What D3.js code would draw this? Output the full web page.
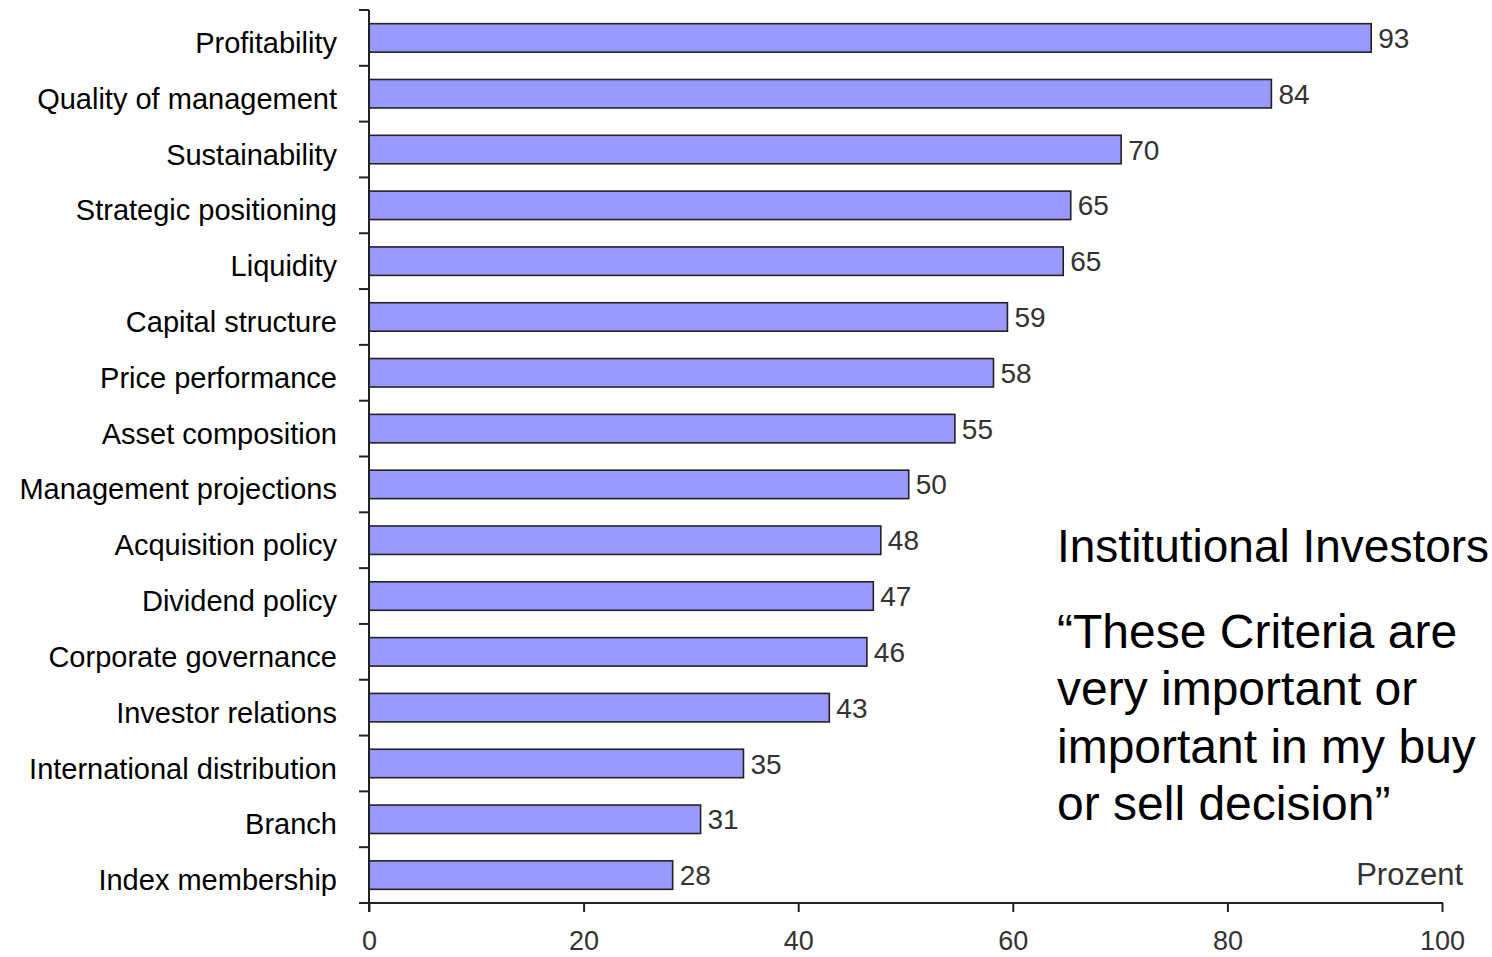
<!DOCTYPE html>
<html><head><meta charset="utf-8">
<script src="https://cdn.jsdelivr.net/npm/d3@7"></script>
<style>html,body{margin:0;padding:0;background:#fff;}svg{display:block;}</style>
</head><body>
<svg id="chart" width="1492" height="957"></svg>
<script>
const categories = ["Profitability","Quality of management","Sustainability","Strategic positioning","Liquidity","Capital structure","Price performance","Asset composition","Management projections","Acquisition policy","Dividend policy","Corporate governance","Investor relations","International distribution","Branch","Index membership"];
const values = [93.4,84.1,70.1,65.4,64.7,59.5,58.2,54.6,50.3,47.7,47.0,46.4,42.9,34.9,30.9,28.3];
const valueLabels = ["93","84","70","65","65","59","58","55","50","48","47","46","43","35","31","28"];
const xTicks = [0,20,40,60,80,100];
const noteTitle = "Institutional Investors";
const noteLines = ["\u201CThese Criteria are","very important or","important in my buy","or sell decision\u201D"];

const svg = d3.select("#chart");
const font = "Arial, 'Liberation Sans', sans-serif";
const x = d3.scaleLinear().domain([0,100]).range([369,1442]);
const y = d3.scaleBand().domain(categories).range([10,903]).paddingInner(0.49).paddingOuter(0.245);
const yb = d3.scaleBand().domain(categories).range([10,903]);

// bars
svg.selectAll("rect.bar").data(categories).join("rect")
  .attr("x", x(0)).attr("y", d=>y(d))
  .attr("width", (d,i)=>x(values[i])-x(0)).attr("height", y.bandwidth())
  .attr("fill","#9999ff").attr("stroke","#222").attr("stroke-width",1.6);

// value labels
svg.selectAll("text.val").data(categories).join("text")
  .attr("x",(d,i)=>x(values[i])+7).attr("y",d=>y(d)+y.bandwidth()/2)
  .attr("dy","0.36em").attr("font-family",font).attr("font-size",28).attr("fill","#333")
  .text((d,i)=>valueLabels[i]);

// category labels
svg.selectAll("text.cat").data(categories).join("text")
  .attr("x",337).attr("y",d=>yb(d)+yb.bandwidth()/2+2)
  .attr("dy","0.45em").attr("text-anchor","end")
  .attr("font-family",font).attr("font-size",29).attr("fill","#000").text(d=>d);

// y axis
const yAxisG = svg.append("g");
yAxisG.append("line").attr("x1",369).attr("x2",369).attr("y1",10).attr("y2",912).attr("stroke","#222").attr("stroke-width",2);
const bounds = categories.map(d=>yb(d));
yAxisG.selectAll("line.t").data(bounds).join("line")
  .attr("x1",359).attr("x2",369).attr("y1",d=>d).attr("y2",d=>d).attr("stroke","#222").attr("stroke-width",2);

// x axis
const xAxis = d3.axisBottom(x).tickValues(xTicks).tickSize(9).tickPadding(19).tickSizeOuter(0);
const xg = svg.append("g").attr("transform","translate(0,903)").call(xAxis);
xg.select(".domain").remove();
xg.append("line").attr("x1",359).attr("x2",1443).attr("y1",0).attr("y2",0).attr("stroke","#222").attr("stroke-width",2);
xg.selectAll(".tick line").attr("stroke","#222").attr("stroke-width",2);
xg.selectAll(".tick text").attr("font-family",font).attr("font-size",27).attr("fill","#333");

// Prozent
svg.append("text").attr("x",1463).attr("y",885).attr("text-anchor","end")
  .attr("font-family",font).attr("font-size",31).attr("fill","#333").text("Prozent");

// annotation
svg.append("text").attr("x",1057).attr("y",562).attr("font-family",font).attr("font-size",46).attr("fill","#000").text(noteTitle);
svg.selectAll("text.note").data(noteLines).join("text")
  .attr("x",1057).attr("y",(d,i)=>648+i*57.3)
  .attr("font-family",font).attr("font-size",48).attr("fill","#000").text(d=>d);
</script>
</body></html>
